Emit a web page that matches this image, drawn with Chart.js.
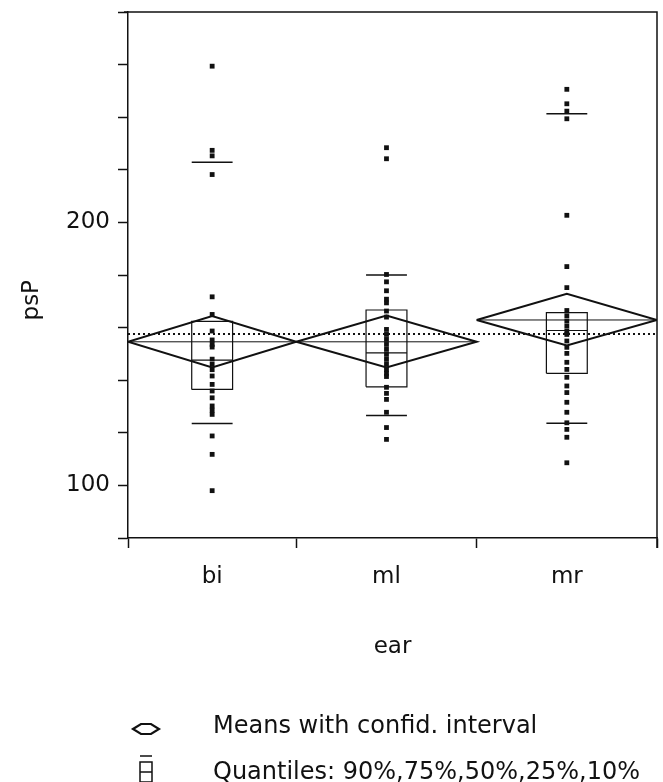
<!DOCTYPE html>
<html>
<head>
<meta charset="utf-8">
<script src="https://cdn.jsdelivr.net/npm/chart.js@4.4.1/dist/chart.umd.min.js"></script>
<style>
  html, body { margin: 0; padding: 0; background: #fff; }
  #wrap { position: relative; width: 663px; height: 782px; }
</style>
</head>
<body>
<div id="wrap"><canvas id="oneway"></canvas></div>
<script>
// Oneway plot of psP by ear: raw points, mean diamonds, quantile boxes

const categories = ['bi', 'ml', 'mr'];
const groupN = [28, 30, 30]; // group width on the x axis follows sample size

const biValues = [259.4, 227.4, 225.3, 218.2, 171.7, 165.0, 158.7, 155.3, 153.6, 152.6,
  148.0, 146.0, 144.0, 141.6, 138.4, 135.9, 133.3, 130.2, 128.6, 127.0, 118.8, 111.8, 98.0];
const mlValues = [228.4, 224.2, 180.2, 177.4, 174.0, 170.8, 169.4, 166.3, 164.0, 159.3,
  157.4, 155.5, 153.6, 151.7, 149.8, 147.9, 146.0, 144.1, 142.6, 141.4, 137.3, 135.0,
  132.7, 127.8, 122.0, 117.5];
const mrValues = [250.6, 245.1, 242.3, 239.4, 202.7, 183.2, 175.2, 166.5, 164.5, 162.5,
  160.6, 158.7, 157.4, 154.9, 152.5, 150.2, 146.8, 144.1, 141.1, 137.8, 135.3, 131.6,
  127.8, 123.8, 121.3, 118.3, 108.6];

const means = [154.6, 154.6, 162.9];
const ciLow = [144.8, 144.8, 153.2];
const ciHigh = [164.4, 164.6, 172.9];

const q90 = [222.9, 180.0, 241.3];
const q75 = [162.4, 166.7, 165.7];
const q50 = [147.6, 150.4, 158.9];
const q25 = [136.5, 137.5, 142.6];
const q10 = [123.5, 126.6, 123.6];

const grandMean = 157.6;

const yMin = 80;
const yMax = 280;
const yStep = 20;
const yLabelled = [100, 200];

const yTitle = 'psP';
const xTitle = 'ear';
const legendItems = ['Means with confid. interval', 'Quantiles: 90%,75%,50%,25%,10%'];

// group boundaries and centres along the x axis
const bounds = [0];
groupN.forEach(n => bounds.push(bounds[bounds.length - 1] + n));
const centers = groupN.map((n, i) => bounds[i] + n / 2);
const boxHalf = 3.4;

const FONT = "'DejaVu Sans', sans-serif";
const INK = '#111';

function seg(points, width, dash) {
  return {
    type: 'scatter',
    data: points,
    showLine: true,
    borderColor: INK,
    borderWidth: width,
    borderDash: dash || [],
    pointRadius: 0,
    tension: 0,
    order: 2
  };
}

const datasets = [];
const groupValues = [biValues, mlValues, mrValues];

groupValues.forEach((vals, i) => {
  const c = centers[i];
  const l = bounds[i];
  const r = bounds[i + 1];

  // raw observations
  datasets.push({
    type: 'scatter',
    data: vals.map(v => ({ x: c, y: v })),
    pointStyle: 'rect',
    pointRadius: 3.4,
    pointBorderWidth: 0,
    backgroundColor: INK,
    order: 1
  });

  // mean diamond
  datasets.push(seg([
    { x: l, y: means[i] }, { x: c, y: ciHigh[i] }, { x: r, y: means[i] },
    { x: c, y: ciLow[i] }, { x: l, y: means[i] }
  ], 2));
  datasets.push(seg([{ x: l, y: means[i] }, { x: r, y: means[i] }], 1));

  // quantile box
  datasets.push(seg([
    { x: c - boxHalf, y: q25[i] }, { x: c - boxHalf, y: q75[i] },
    { x: c + boxHalf, y: q75[i] }, { x: c + boxHalf, y: q25[i] },
    { x: c - boxHalf, y: q25[i] }
  ], 1.2));
  datasets.push(seg([{ x: c - boxHalf, y: q50[i] }, { x: c + boxHalf, y: q50[i] }], 1.2));
  datasets.push(seg([{ x: c - boxHalf, y: q90[i] }, { x: c + boxHalf, y: q90[i] }], 1.5));
  datasets.push(seg([{ x: c - boxHalf, y: q10[i] }, { x: c + boxHalf, y: q10[i] }], 1.5));
});

// grand mean
datasets.push(seg([{ x: bounds[0], y: grandMean }, { x: bounds[bounds.length - 1], y: grandMean }], 2, [2, 3]));

// top and right sides of the frame, the y title and the key under the plot
const framePlugin = {
  id: 'frameAndKey',
  afterDraw(chart) {
    const { ctx, chartArea: a } = chart;
    ctx.save();
    ctx.strokeStyle = INK;
    ctx.lineWidth = 1.5;
    ctx.beginPath();
    ctx.moveTo(a.left - 4, a.top);
    ctx.lineTo(a.right, a.top);
    ctx.lineTo(a.right, a.bottom + 10);
    ctx.stroke();

    // y title, sitting a little below the middle as in the source
    ctx.fillStyle = INK;
    ctx.font = '23px ' + FONT;
    ctx.textAlign = 'center';
    ctx.textBaseline = 'middle';
    ctx.save();
    ctx.translate(32, a.top + (a.bottom - a.top) * 0.548);
    ctx.rotate(-Math.PI / 2);
    ctx.fillText(yTitle, 0, 0);
    ctx.restore();

    // key
    const textX = 213;
    const rowY = [727, 773];
    const iconX = 146;
    ctx.font = '24px ' + FONT;
    ctx.textAlign = 'left';
    legendItems.forEach((t, i) => ctx.fillText(t, textX, rowY[i]));

    ctx.lineWidth = 2.2;
    ctx.beginPath();
    ctx.moveTo(iconX - 13, rowY[0] + 2);
    ctx.lineTo(iconX - 5, rowY[0] - 3);
    ctx.lineTo(iconX + 5, rowY[0] - 3);
    ctx.lineTo(iconX + 13, rowY[0] + 2);
    ctx.lineTo(iconX + 5, rowY[0] + 7);
    ctx.lineTo(iconX - 5, rowY[0] + 7);
    ctx.closePath();
    ctx.stroke();

    ctx.lineWidth = 1.5;
    ctx.beginPath();
    ctx.moveTo(iconX - 6, rowY[1] - 17); ctx.lineTo(iconX + 6, rowY[1] - 17);
    ctx.rect(iconX - 6, rowY[1] - 11, 12, 20);
    ctx.moveTo(iconX - 6, rowY[1] - 1); ctx.lineTo(iconX + 6, rowY[1] - 1);
    ctx.moveTo(iconX - 6, rowY[1] + 14); ctx.lineTo(iconX + 6, rowY[1] + 14);
    ctx.stroke();
    ctx.restore();
  }
};

const ctx = document.getElementById('oneway').getContext('2d');

new Chart(ctx, {
  type: 'scatter',
  data: { datasets: datasets },
  options: {
    responsive: true,
    maintainAspectRatio: false,
    animation: false,
    events: [],
    layout: { autoPadding: false, padding: { left: 0, top: 12, right: 6, bottom: 114 } },
    plugins: {
      legend: { display: false },
      tooltip: { enabled: false }
    },
    scales: {
      x: {
        type: 'linear',
        min: bounds[0],
        max: bounds[bounds.length - 1],
        afterBuildTicks(scale) {
          const vals = bounds.concat(centers).sort((a, b) => a - b);
          scale.ticks = vals.map(v => ({ value: v }));
        },
        afterFit(scale) {
          scale.height = 130;
          scale.paddingLeft = 0;
          scale.paddingRight = 0;
        },
        border: { display: true, color: INK, width: 1.5 },
        grid: {
          drawOnChartArea: false,
          tickLength: 10,
          tickWidth: 1.5,
          tickColor: c => (bounds.includes(c.tick.value) ? INK : 'rgba(0,0,0,0)')
        },
        ticks: {
          autoSkip: false,
          maxRotation: 0,
          padding: 15,
          color: INK,
          font: c => ({ family: FONT, size: c.tick && centers.includes(c.tick.value) ? 23 : 1 }),
          callback: v => {
            const k = centers.indexOf(v);
            return k >= 0 ? categories[k] : '';
          }
        },
        title: {
          display: true,
          text: xTitle,
          color: INK,
          font: { family: FONT, size: 23 },
          padding: { top: 0, bottom: 7 }
        }
      },
      y: {
        min: yMin,
        max: yMax,
        afterFit(scale) {
          scale.width = 128;
          scale.paddingTop = 0;
          scale.paddingBottom = 0;
        },
        border: { display: true, color: INK, width: 1.5 },
        grid: { drawOnChartArea: false, tickLength: 10, tickWidth: 1.5, tickColor: INK },
        ticks: {
          stepSize: yStep,
          padding: 8,
          color: INK,
          font: c => ({ family: FONT, size: c.tick && yLabelled.includes(c.tick.value) ? 23 : 1 }),
          callback: v => (yLabelled.includes(v) ? String(v) : '')
        }
      }
    }
  },
  plugins: [framePlugin]
});
</script>
</body>
</html>
